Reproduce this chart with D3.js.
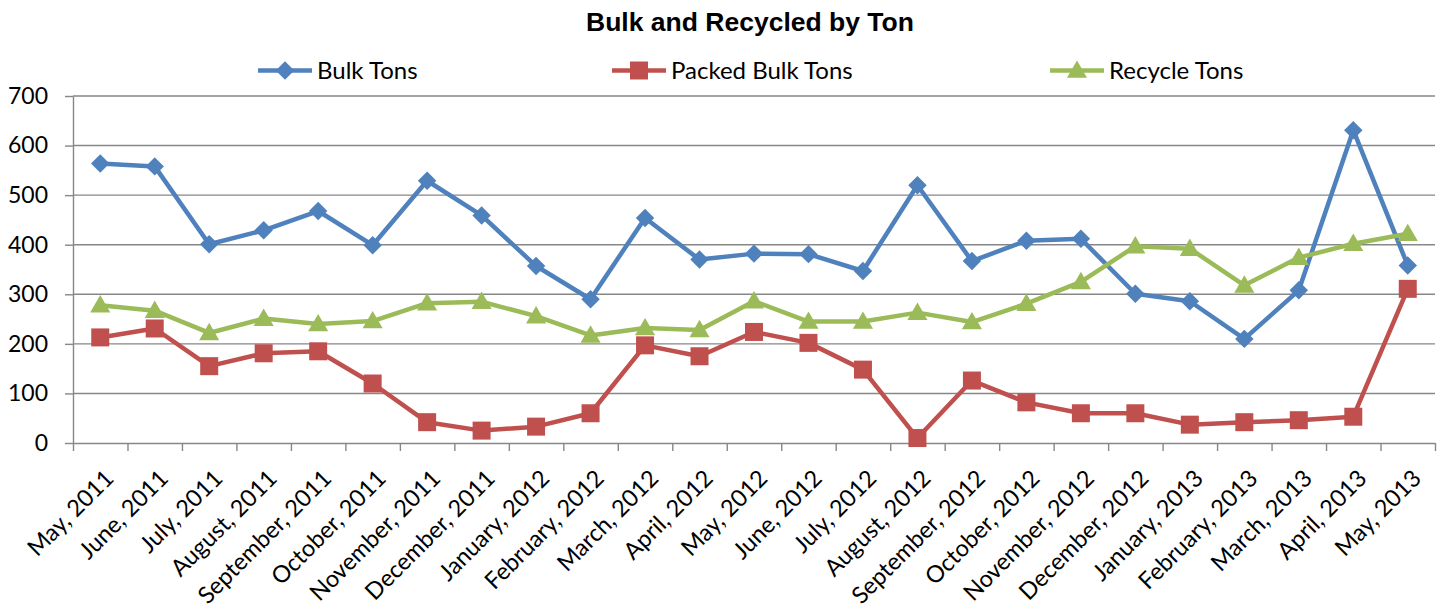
<!DOCTYPE html>
<html>
<head>
<meta charset="utf-8">
<script src="https://cdn.jsdelivr.net/npm/d3@7"></script>
<style>
  body { margin: 0; background: #fff; }
  svg { display: block; }
</style>
</head>
<body>
<div id="chart"></div>
<script>
let months = ["May, 2011", "June, 2011", "July, 2011", "August, 2011", "September, 2011",
    "October, 2011", "November, 2011", "December, 2011", "January, 2012", "February, 2012",
    "March, 2012", "April, 2012", "May, 2012", "June, 2012", "July, 2012", "August, 2012",
    "September, 2012", "October, 2012", "November, 2012", "December, 2012", "January, 2013",
    "February, 2013", "March, 2013", "April, 2013", "May, 2013"];
let bulkTons = [564, 558, 401, 429, 468, 399, 529, 459, 357, 290, 454, 370, 382, 381, 347, 520,
    367, 408, 412, 301, 286, 210, 308, 631, 358];
let packedBulkTons = [213, 231, 155, 181, 185, 120, 42, 25, 33, 60, 197, 175, 224, 202, 148, 10,
    126, 82, 60, 60, 37, 42, 46, 53, 311];
let recycleTons = [278, 267, 222, 251, 240, 246, 282, 285, 256, 217, 232, 228, 286, 245, 245, 263,
    244, 281, 325, 397, 392, 318, 374, 402, 422];
let yTicks = [0, 100, 200, 300, 400, 500, 600, 700];

let widthC = 1445, heightC = 610;
let plotLeft = 73, plotRight = 1435, plotTop = 96, plotBottom = 443;

let svg = d3.select('#chart')
    .append('svg')
    .attr('width', widthC)
    .attr('height', heightC);

let x = d3.scaleBand().domain(months).range([plotLeft, plotRight]);
let xIdx = d3.scaleLinear().domain([0, months.length]).range([plotLeft, plotRight]);
let y = d3.scaleLinear().domain([0, 700]).range([plotBottom, plotTop]);
let cx = function (i) { return x(months[i]) + x.bandwidth() / 2; };

// gridlines
svg.append('g')
    .selectAll('line')
    .data(yTicks.slice(1))
    .enter()
    .append('line')
    .attr('x1', plotLeft)
    .attr('x2', plotRight)
    .attr('y1', d => y(d))
    .attr('y2', d => y(d))
    .attr('stroke', '#878787')
    .attr('stroke-width', 1.4);

// y axis
let yAxis = svg.append('g')
    .attr('transform', 'translate(' + plotLeft + ',0)')
    .call(d3.axisLeft(y).tickValues(yTicks).tickSize(8).tickPadding(17).tickSizeOuter(0));
yAxis.select('.domain').attr('stroke', '#878787').attr('stroke-width', 1.4);
yAxis.selectAll('.tick line').attr('stroke', '#878787').attr('stroke-width', 1.4);
yAxis.selectAll('text')
    .style('font-family', 'Lato')
    .style('font-size', '23px')
    .attr('fill', '#000');

// x axis tick marks at category boundaries
let xTickAxis = svg.append('g')
    .attr('transform', 'translate(0,' + plotBottom + ')')
    .call(d3.axisBottom(xIdx).tickValues(d3.range(months.length + 1)).tickSize(8).tickFormat('').tickSizeOuter(0));
xTickAxis.select('.domain').attr('stroke', '#878787').attr('stroke-width', 1.4);
xTickAxis.selectAll('.tick line').attr('stroke', '#878787').attr('stroke-width', 1.4);

// x axis labels, rotated
let xLabelAxis = svg.append('g')
    .attr('transform', 'translate(0,' + plotBottom + ')')
    .call(d3.axisBottom(x).tickSize(0));
xLabelAxis.select('.domain').remove();
xLabelAxis.selectAll('text')
    .style('font-family', 'Lato')
    .style('font-size', '23.5px')
    .attr('fill', '#000')
    .attr('text-anchor', 'end')
    .attr('x', 0)
    .attr('y', 0)
    .attr('dy', '0.35em')
    .attr('transform', 'translate(9,31) rotate(-45)');

let series = [
    { name: 'Bulk Tons', values: bulkTons, color: '#4F81BD', symbol: 'diamond' },
    { name: 'Packed Bulk Tons', values: packedBulkTons, color: '#C0504D', symbol: 'square' },
    { name: 'Recycle Tons', values: recycleTons, color: '#9BBB59', symbol: 'triangle' }
];

let markerPath = function (kind) {
    if (kind === 'diamond') return d3.symbol().type(d3.symbolSquare).size(170)();
    if (kind === 'square') return d3.symbol().type(d3.symbolSquare).size(324)();
    return d3.symbol().type(d3.symbolTriangle).size(175)();
};
let markerRot = function (kind) { return kind === 'diamond' ? ' rotate(45)' : ''; };

let line = d3.line()
    .x((d, i) => cx(i))
    .y(d => y(d));

series.forEach(function (s) {
    svg.append('path')
        .attr('d', line(s.values))
        .attr('fill', 'none')
        .attr('stroke', s.color)
        .attr('stroke-width', 4.5)
        .attr('stroke-linejoin', 'round');
    svg.append('g')
        .selectAll('path')
        .data(s.values)
        .enter()
        .append('path')
        .attr('d', markerPath(s.symbol))
        .attr('transform', (d, i) => 'translate(' + cx(i) + ',' + (y(d) + (s.symbol === 'triangle' ? 1.5 : 0)) + ')' + markerRot(s.symbol))
        .attr('fill', s.color);
});

// title
svg.append('text')
    .attr('x', 750)
    .attr('y', 31)
    .attr('text-anchor', 'middle')
    .style('font-family', 'Liberation Sans, Arial')
    .style('font-weight', 'bold')
    .style('font-size', '26.5px')
    .text('Bulk and Recycled by Ton');

// legend
let legendX = [258, 612, 1050];
series.forEach(function (s, i) {
    let g = svg.append('g').attr('transform', 'translate(' + legendX[i] + ',70.5)');
    g.append('line')
        .attr('x1', 0).attr('x2', 54)
        .attr('y1', 0).attr('y2', 0)
        .attr('stroke', s.color)
        .attr('stroke-width', 4.5);
    g.append('path')
        .attr('d', markerPath(s.symbol))
        .attr('transform', 'translate(27,' + (s.symbol === 'triangle' ? 1.5 : 0) + ')' + markerRot(s.symbol))
        .attr('fill', s.color);
    g.append('text')
        .attr('x', 59)
        .attr('y', 0)
        .attr('dy', '0.36em')
        .style('font-family', 'Lato')
        .style('font-size', '24px')
        .text(s.name);
});
</script>
</body>
</html>
